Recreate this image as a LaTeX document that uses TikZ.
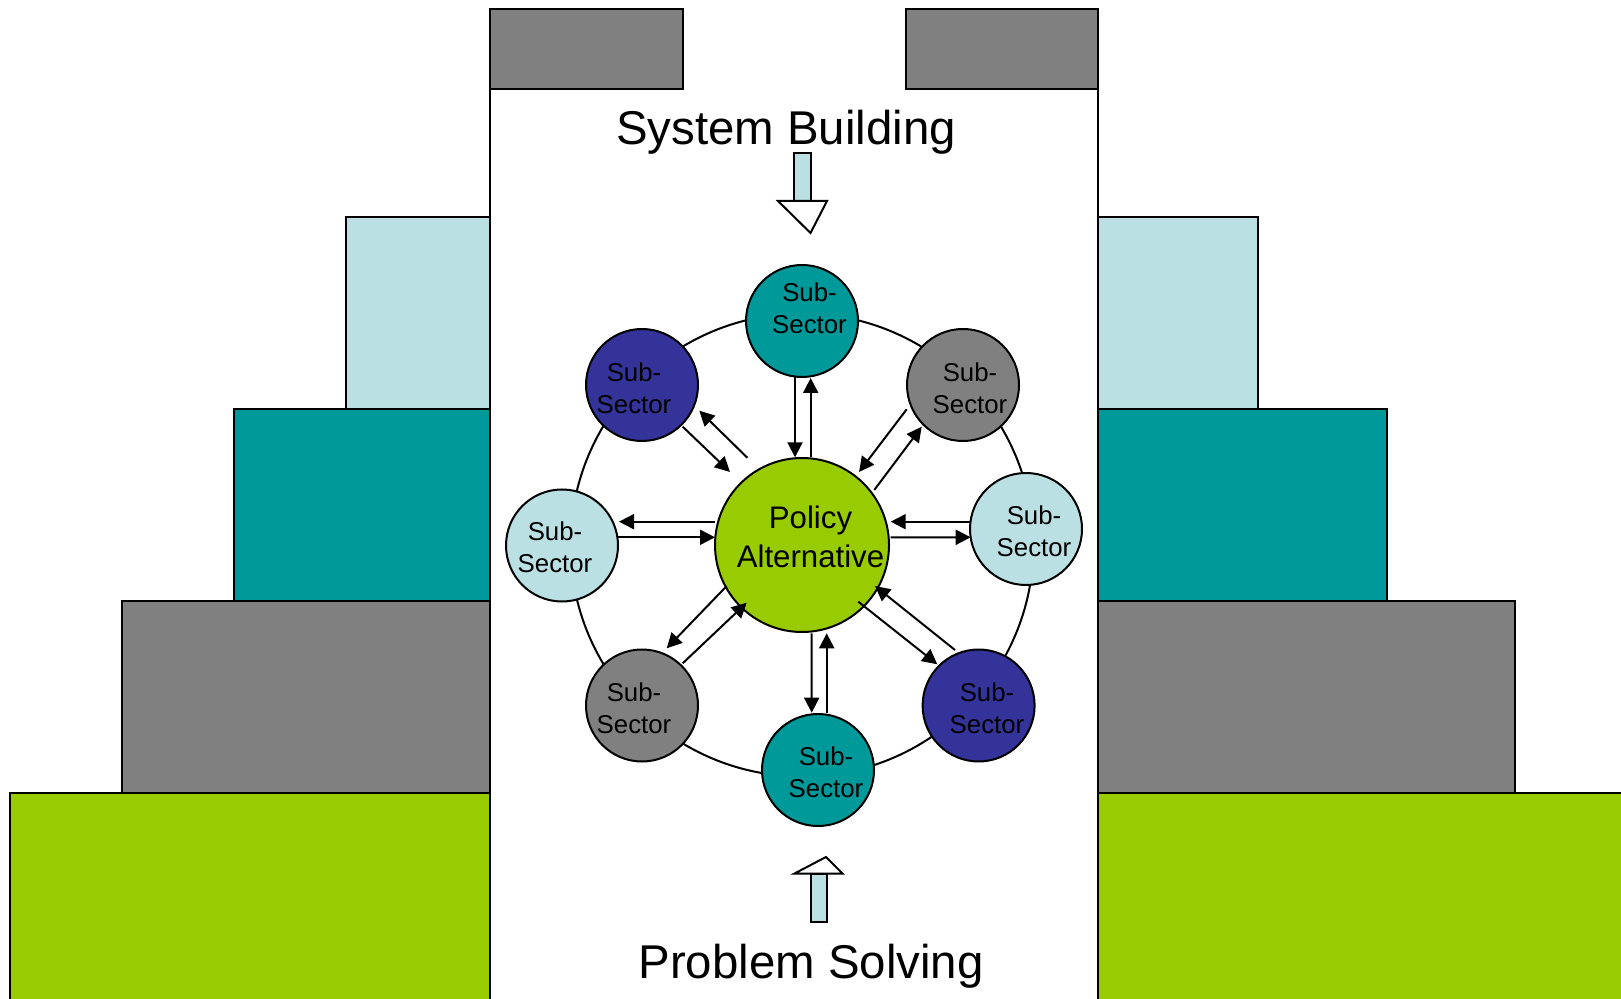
\documentclass[tikz,border=0pt]{standalone}
\usepackage{fontspec}
\setmainfont{Liberation Sans}
\usetikzlibrary{calc,arrows.meta}
\definecolor{lblue}{RGB}{187,224,227}
\definecolor{tealc}{RGB}{0,153,153}
\definecolor{grayc}{RGB}{128,128,128}
\definecolor{greenc}{RGB}{153,204,0}
\definecolor{dbluec}{RGB}{51,51,153}
\begin{document}
\begin{tikzpicture}[x=0.5pt,y=-0.5pt,
  blk/.style={draw=black, line width=1pt},
  subc/.style={circle, draw=black, line width=1pt, minimum size=56pt, inner sep=0pt},
  polc/.style={circle, draw=black, line width=1pt, fill=greenc, minimum size=87pt, inner sep=0pt},
  subtxt/.style={align=center, font=\fontsize{12.9}{16}\selectfont, inner sep=0pt},
  poltxt/.style={align=center, font=\fontsize{15.6}{19.25}\selectfont, inner sep=0pt},
  bigtxt/.style={font=\fontsize{23.7}{28}\selectfont, anchor=base, inner sep=0pt},
  arrw/.style={line width=1pt, -{Triangle[length=7.5pt,width=7.5pt]}},
]
\fill[white] (0,0) rectangle (1621,999);
\useasboundingbox (0,0) rectangle (1621,999);
% left steps
\draw[blk, fill=lblue] (346,217) rectangle (490,409);
\draw[blk, fill=tealc] (234,409) rectangle (490,601);
\draw[blk, fill=grayc] (122,601) rectangle (490,793);
\draw[blk, fill=greenc] (10,793) rectangle (490,1010);
% right steps
\draw[blk, fill=lblue] (1098,217) rectangle (1258,409);
\draw[blk, fill=tealc] (1098,409) rectangle (1387,601);
\draw[blk, fill=grayc] (1098,601) rectangle (1515,793);
\draw[blk, fill=greenc] (1098,793) rectangle (1640,1010);
% column
\draw[blk] (490,9) -- (490,1010);
\draw[blk] (1098,9) -- (1098,1010);
\draw[blk, fill=grayc] (490,9) rectangle (683,89);
\draw[blk, fill=grayc] (906,9) rectangle (1098,89);
% ring
\draw[line width=1pt] (802,545) circle[radius=231.5];
% nodes
\node[polc] (P) at (802,545) {};
\node[subc, fill=tealc] (sT) at (802,321) {};
\node[subc, fill=dbluec] (sUL) at (642,385) {};
\node[subc, fill=grayc] (sUR) at (963,385) {};
\node[subc, fill=lblue] (sL) at (562,545.5) {};
\node[subc, fill=lblue] (sR) at (1026,529) {};
\node[subc, fill=grayc] (sLL) at (642,705.5) {};
\node[subc, fill=dbluec] (sLR) at (978.6,705.5) {};
\node[subc, fill=tealc] (sB) at (818,770) {};
% arrows: top
\draw[arrw] ([shift={(-7,56)}]sT.center) -- ([shift={(-7,-87.7)}]P.center);
\draw[arrw] ([shift={(8.7,-87.7)}]P.center) -- ([shift={(8.7,57)}]sT.center);
% upper left
\draw[arrw] ([shift={(-54.7,-87.3)}]P.center) -- ([shift={(57.3,25.7)}]sUL.center);
\draw[arrw] ([shift={(40.7,41.7)}]sUL.center) -- ([shift={(-72,-73)}]P.center);
% upper right
\draw[arrw] ([shift={(-56.3,24.3)}]sUR.center) -- ([shift={(57,-73)}]P.center);
\draw[arrw] ([shift={(72.3,-55)}]P.center) -- ([shift={(-41.3,41.7)}]sUR.center);
% left
\draw[arrw] ([shift={(-87,-23.3)}]P.center) -- ([shift={(57,-23.8)}]sL.center);
\draw[arrw] ([shift={(56.3,-8.2)}]sL.center) -- ([shift={(-87,-7.7)}]P.center);
% right
\draw[arrw] ([shift={(-55.3,-7.3)}]sR.center) -- ([shift={(88.7,-23.3)}]P.center);
\draw[arrw] ([shift={(88.7,-7.7)}]P.center) -- ([shift={(-55.3,8.3)}]sR.center);
% lower left
\draw[arrw] ([shift={(-75.3,41)}]P.center) -- ([shift={(24.7,-57.2)}]sLL.center);
\draw[arrw] ([shift={(40.7,-42.2)}]sLL.center) -- ([shift={(-55.3,57.7)}]P.center);
% bottom
\draw[arrw] ([shift={(9.7,88.3)}]P.center) -- ([shift={(-6.3,-57.3)}]sB.center);
\draw[arrw] ([shift={(8.7,-57.3)}]sB.center) -- ([shift={(24.7,88.3)}]P.center);
% lower right
\draw[arrw] ([shift={(-23.6,-55.5)}]sLR.center) -- ([shift={(73,41)}]P.center);
\draw[arrw] ([shift={(56.3,56.7)}]P.center) -- ([shift={(-41.3,-41.2)}]sLR.center);
% texts
\node[subtxt] (tT) at (809.5,308) {Sub-\\Sector};
\node[subtxt] (tUL) at (634,388) {Sub-\\Sector};
\node[subtxt] (tUR) at (970,388) {Sub-\\Sector};
\node[subtxt] (tL) at (555,547) {Sub-\\Sector};
\node[subtxt] (tR) at (1034,531.6) {Sub-\\Sector};
\node[subtxt] (tLL) at (634,708) {Sub-\\Sector};
\node[subtxt] (tLR) at (987,708) {Sub-\\Sector};
\node[subtxt] (tB) at (826,772) {Sub-\\Sector};
\node[poltxt] (tP) at (810.5,537) {Policy\\Alternative};
\node[bigtxt] (sysb) at (786,145) {System Building};
\node[bigtxt] (probs) at (811,978) {Problem Solving};
% hollow arrows
\draw[blk, fill=lblue] (794.3,153) rectangle (810.6,201);
\draw[blk, fill=white, line join=miter] (778,201) -- (827,201) -- (810.5,233) -- cycle;
\draw[blk, fill=lblue] (810.5,873.5) rectangle (826.5,921.5);
\draw[blk, fill=white, line join=miter] (794.5,873.5) -- (842.5,873.5) -- (826,857) -- cycle;
\end{tikzpicture}
\end{document}
